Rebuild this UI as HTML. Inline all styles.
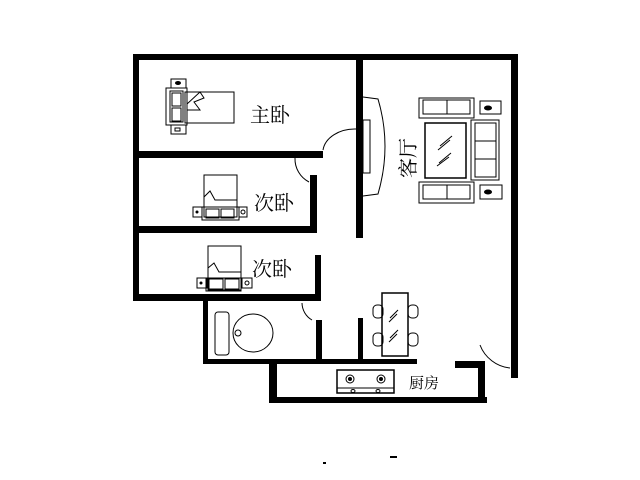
<!DOCTYPE html>
<html><head><meta charset="utf-8"><style>html,body{margin:0;padding:0;background:#fff}svg{display:block}</style></head>
<body>
<svg width="640" height="480" viewBox="0 0 640 480" xmlns="http://www.w3.org/2000/svg">
<g fill="#000">
<rect x="133" y="54" width="385" height="6"/>
<rect x="133" y="54" width="6" height="246"/>
<rect x="511" y="54" width="7" height="324"/>
<rect x="356" y="54" width="7" height="184"/>
<rect x="133" y="151" width="190" height="7"/>
<rect x="310" y="175" width="7" height="58"/>
<rect x="133" y="226" width="184" height="7"/>
<rect x="315" y="255" width="6" height="46"/>
<rect x="133" y="294" width="188" height="7"/>
<rect x="203" y="298" width="5" height="66"/>
<rect x="205" y="359" width="212" height="5"/>
<rect x="316" y="320" width="6" height="42"/>
<rect x="358" y="318" width="5" height="44"/>
<rect x="269" y="363" width="8" height="40"/>
<rect x="269" y="397" width="218" height="6"/>
<rect x="478" y="361" width="7" height="42"/>
<rect x="455" y="361" width="30" height="7"/>
<rect x="323" y="462" width="3" height="2"/>
<rect x="390" y="456" width="7" height="2"/>
</g>
<g fill="none" stroke="#000" stroke-width="1">
<path d="M323 150 A32 24 0 0 1 356 129"/>
<path d="M295 158 A26 26 0 0 0 309 182"/>
<path d="M302 303 A20 20 0 0 0 312 320"/>
<path d="M480 345 A36 36 0 0 0 510 368"/>
<path d="M363 97 L378 99 Q392 146 378 194 L363 196"/>
<rect x="363" y="120" width="7" height="53"/>
<!-- master bed -->
<rect x="185" y="92" width="49" height="31"/>
<rect x="166" y="88" width="21" height="37"/>
<rect x="170" y="91" width="13" height="31"/>
<rect x="172" y="93" width="9" height="13"/><rect x="172" y="108" width="9" height="13"/>
<path d="M187 104 L200 92 L204 98 L194 102 L200 110 L187 110"/>
<rect x="171" y="79" width="15" height="9"/>
<rect x="171" y="125" width="15" height="9"/>
<rect x="175" y="128" width="5" height="3"/>
<!-- bed 2 -->
<rect x="204" y="175" width="33" height="42"/>
<path d="M204 197 L210 191 L215 200 L237 200"/>
<rect x="202" y="207" width="37" height="13"/>
<rect x="206" y="209" width="13" height="9"/><rect x="221" y="209" width="13" height="9"/>
<rect x="193" y="207" width="9" height="10"/>
<rect x="239" y="207" width="8" height="10"/>
<circle cx="243" cy="212" r="2"/>
<!-- bed 3 -->
<rect x="208" y="246" width="33" height="44"/>
<path d="M208 268 L214 263 L219 272 L241 272"/>
<rect x="206" y="278" width="35" height="13"/>
<rect x="209" y="279" width="14" height="10"/><rect x="225" y="279" width="14" height="10"/>
<rect x="197" y="278" width="10" height="10"/>
<rect x="242" y="278" width="10" height="10"/>
<circle cx="247" cy="283" r="2"/>
<!-- living -->
<rect x="419" y="98" width="55" height="20"/>
<rect x="423" y="100" width="47" height="14"/>
<line x1="447" y1="100" x2="447" y2="114"/>
<rect x="419" y="182" width="55" height="21"/>
<rect x="423" y="185" width="47" height="14"/>
<line x1="447" y1="185" x2="447" y2="199"/>
<rect x="471" y="120" width="28" height="60"/>
<rect x="475" y="123" width="21" height="54"/>
<line x1="475" y1="141" x2="496" y2="141"/><line x1="475" y1="159" x2="496" y2="159"/>
<rect x="425" y="123" width="41" height="55" stroke-width="1.5"/>
<path d="M440 146 L452 136 M438 150 L450 140 M439 163 L451 153 M437 166 L449 157"/>
<rect x="480" y="101" width="21" height="13"/>
<rect x="480" y="185" width="22" height="14"/>
<!-- dining -->
<rect x="382" y="293" width="26" height="63" stroke-width="1.5"/>
<path d="M390 318 L398 310 M389 322 L397 314 M390 338 L398 330 M389 342 L397 334"/>
<rect x="373" y="305" width="10" height="13" rx="4"/>
<rect x="373" y="333" width="10" height="13" rx="4"/>
<rect x="408" y="305" width="10" height="13" rx="4"/>
<rect x="408" y="333" width="10" height="13" rx="4"/>
<!-- toilet -->
<rect x="215" y="312" width="14" height="43" rx="3"/>
<ellipse cx="253" cy="333" rx="20" ry="19"/>
<circle cx="238" cy="333" r="3"/>
<!-- stove -->
<rect x="337" y="370" width="57" height="23" stroke-width="1.5"/>
<line x1="337" y1="388" x2="394" y2="388"/>
<circle cx="350" cy="379" r="4"/><circle cx="381" cy="379" r="4"/>
<ellipse cx="353" cy="391" rx="2" ry="1.5"/><ellipse cx="378" cy="391" rx="2" ry="1.5"/>
</g>
<g fill="#000">
<ellipse cx="178" cy="83" rx="3" ry="2"/>
<ellipse cx="488" cy="108" rx="4" ry="2.5"/>
<ellipse cx="488" cy="192" rx="4" ry="2.5"/>
<circle cx="197" cy="212" r="1.5"/><circle cx="201" cy="283" r="1.5"/>
<circle cx="350" cy="379" r="2"/><circle cx="381" cy="379" r="2"/>
</g>
<g font-family="'Liberation Serif','Noto Serif CJK SC',serif" fill="#000">
<text x="250" y="122" font-size="20">主卧</text>
<text x="254" y="210" font-size="20">次卧</text>
<text x="252" y="276" font-size="20">次卧</text>
<text x="409" y="388" font-size="15">厨房</text>
<text transform="translate(415,178) rotate(-90)" font-size="20">客厅</text>
</g>
</svg>
</body></html>
